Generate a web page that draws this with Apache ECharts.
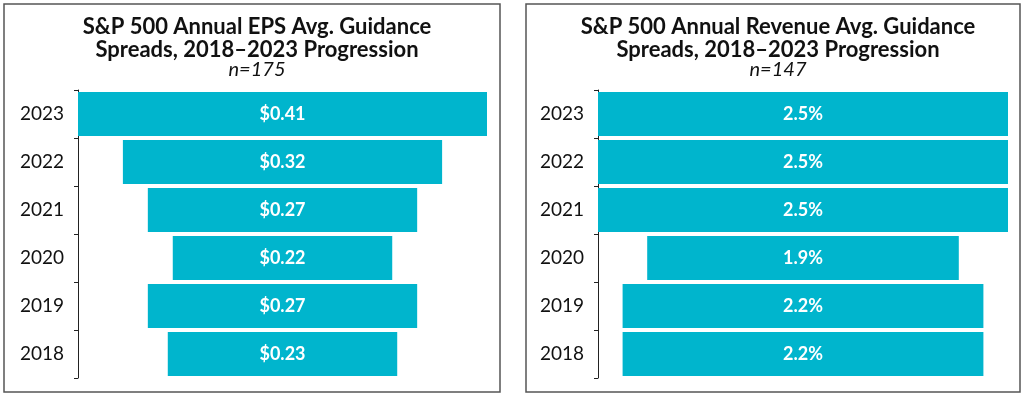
<!DOCTYPE html>
<html>
<head>
<meta charset="utf-8">
<script src="https://cdn.jsdelivr.net/npm/echarts@6/dist/echarts.min.js"></script>
<style>
  html, body { margin: 0; padding: 0; background: #fff; }
  #chart { width: 1024px; height: 397px; }
</style>
</head>
<body>
<div id="chart"></div>
<script>
// data, top to bottom
const years = ['2023', '2022', '2021', '2020', '2019', '2018'];
const epsSpread = [0.41, 0.32, 0.27, 0.22, 0.27, 0.23];
const revenueSpread = [2.5, 2.5, 2.5, 1.9, 2.2, 2.2];

const barColor = '#00B5CD';
const font = 'Lato';

const chart = echarts.init(document.getElementById('chart'));

// transparent padding so each bar sits centred like a funnel
const padding = (vals) => {
  const max = Math.max(...vals);
  return vals.map(v => (max - v) / 2);
};

const makeYAxis = (gridIndex) => ({
  type: 'category',
  gridIndex,
  data: years,
  inverse: true,
  axisLine: { lineStyle: { color: '#222', width: 1 } },
  axisTick: { show: true, length: 4, lineStyle: { color: '#222' } },
  axisLabel: { color: '#111', fontSize: 19, fontFamily: font, margin: 14 }
});

const makeXAxis = (gridIndex, max) => ({
  type: 'value',
  gridIndex,
  min: 0,
  max,
  show: false
});

const makeSeries = (idx, vals, fmt) => ([
  {
    type: 'bar',
    xAxisIndex: idx,
    yAxisIndex: idx,
    stack: 's' + idx,
    data: padding(vals),
    itemStyle: { color: 'transparent' },
    barWidth: 44,
    silent: true
  },
  {
    type: 'bar',
    xAxisIndex: idx,
    yAxisIndex: idx,
    stack: 's' + idx,
    data: vals,
    barWidth: 44,
    itemStyle: { color: barColor },
    label: {
      show: true,
      position: 'inside',
      color: '#fff',
      fontWeight: 'bold',
      fontSize: 18,
      fontFamily: font,
      formatter: p => fmt(p.value)
    }
  }
]);

const titleStyle = {
  color: '#111',
  fontSize: 22,
  fontWeight: 'bold',
  fontFamily: font,
  lineHeight: 23
};
const subStyle = {
  color: '#111',
  fontSize: 20,
  fontStyle: 'italic',
  fontFamily: font,
  lineHeight: 18
};

chart.setOption({
  animation: false,
  title: [
    {
      text: 'S&P 500 Annual EPS Avg. Guidance\nSpreads, 2018–2023 Progression',
      subtext: 'n=175',
      left: 252,
      top: 10,
      textAlign: 'center',
      itemGap: 0,
      textStyle: titleStyle,
      subtextStyle: subStyle
    },
    {
      text: 'S&P 500 Annual Revenue Avg. Guidance\nSpreads, 2018–2023 Progression',
      subtext: 'n=147',
      left: 773,
      top: 10,
      textAlign: 'center',
      itemGap: 0,
      textStyle: titleStyle,
      subtextStyle: subStyle
    }
  ],
  graphic: [
    { type: 'rect', shape: { x: 4, y: 4, width: 496, height: 388 },
      style: { fill: 'none', stroke: '#555', lineWidth: 1.5 } },
    { type: 'rect', shape: { x: 526, y: 4, width: 494, height: 388 },
      style: { fill: 'none', stroke: '#555', lineWidth: 1.5 } }
  ],
  grid: [
    { left: 78, top: 90, width: 409, height: 288 },
    { left: 598, top: 90, width: 410, height: 288 }
  ],
  xAxis: [makeXAxis(0, 0.41), makeXAxis(1, 2.5)],
  yAxis: [makeYAxis(0), makeYAxis(1)],
  series: [
    ...makeSeries(0, epsSpread, v => '$' + v.toFixed(2)),
    ...makeSeries(1, revenueSpread, v => v.toFixed(1) + '%')
  ]
});

window.addEventListener('resize', () => chart.resize());
</script>
</body>
</html>
